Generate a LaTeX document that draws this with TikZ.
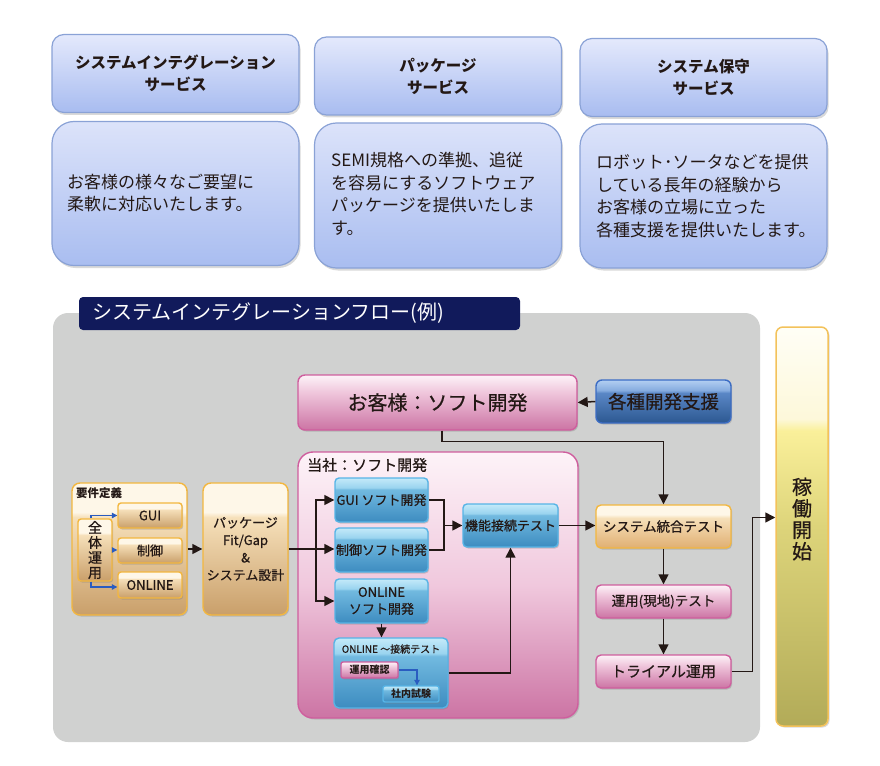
\documentclass[tikz,border=0pt]{standalone}
\usepackage{fontspec}
\setmainfont{Noto Sans CJK JP}
\newfontfamily\flowfont{Noto Sans CJK JP}[FakeBold=0.6]
\usetikzlibrary{arrows.meta,shadows}
\newcommand\myfs[2]{\fontsize{#1}{#2}\selectfont}
\definecolor{ink}{HTML}{231815}
\definecolor{hA}{HTML}{E4E9FC}
\definecolor{hB}{HTML}{A8BCF0}
\definecolor{hbd}{HTML}{8AA2D6}
\definecolor{bA}{HTML}{DCE3FA}
\definecolor{bB}{HTML}{A9BDF0}
\definecolor{panel}{HTML}{D0D1D0}
\definecolor{navy}{HTML}{111A5B}
\definecolor{orA}{HTML}{FEF7E8}
\definecolor{orB}{HTML}{F6E0BA}
\definecolor{orC}{HTML}{C99F6A}
\definecolor{orbd}{HTML}{F3B73F}
\definecolor{tgC}{HTML}{E0AF72}
\definecolor{blA}{HTML}{C4EAF9}
\definecolor{blB}{HTML}{9AD4EF}
\definecolor{blC}{HTML}{72BAE0}
\definecolor{blD}{HTML}{3D8CC0}
\definecolor{blbd}{HTML}{56B4E6}
\definecolor{pkA}{HTML}{FDF3F8}
\definecolor{pkB}{HTML}{F0C8DD}
\definecolor{pkC}{HTML}{CC74A4}
\definecolor{pkbd}{HTML}{CF5E9E}
\definecolor{shA}{HTML}{B3CFF2}
\definecolor{shB}{HTML}{86ACDF}
\definecolor{shC}{HTML}{5A87C6}
\definecolor{shD}{HTML}{2C5891}
\definecolor{shbd}{HTML}{3B6CC4}
\definecolor{kA}{HTML}{FFFEF6}
\definecolor{kB}{HTML}{FDF8DA}
\definecolor{kC}{HTML}{FAF09A}
\definecolor{kM}{HTML}{DDD47A}
\definecolor{kD}{HTML}{B2AB58}
\definecolor{kbd}{HTML}{F3C25A}
\definecolor{barrow}{HTML}{2A5CC0}
\pgfdeclareverticalshading{glossor}{100bp}{color(0bp)=(orC); color(25bp)=(orC); color(62bp)=(orB); color(64bp)=(orA); color(75bp)=(orA); color(100bp)=(orA)}
\pgfdeclareverticalshading{glosstg}{100bp}{color(0bp)=(tgC); color(25bp)=(tgC); color(60bp)=(orB); color(64bp)=(orA); color(75bp)=(orA); color(100bp)=(orA)}
\pgfdeclareverticalshading{glossbl}{100bp}{color(0bp)=(blD); color(25bp)=(blD); color(62bp)=(blC); color(64bp)=(blB); color(75bp)=(blA); color(100bp)=(blA)}
\pgfdeclareverticalshading{glosspk}{100bp}{color(0bp)=(pkC); color(25bp)=(pkC); color(60bp)=(pkB); color(75bp)=(pkA); color(100bp)=(pkA)}
\pgfdeclareverticalshading{glosssh}{100bp}{color(0bp)=(shD); color(25bp)=(shD); color(60bp)=(shC); color(63bp)=(shB); color(75bp)=(shA); color(100bp)=(shA)}
\pgfdeclareverticalshading{kadosh}{100bp}{color(0bp)=(kD); color(25bp)=(kD); color(50bp)=(kM); color(62bp)=(kC); color(63.5bp)=(kB); color(75bp)=(kA); color(100bp)=(kA)}
\begin{document}
\begin{tikzpicture}[x=1pt,y=-1pt,
  sz/.style 2 args={minimum width=#1pt, minimum height=#2pt},
  hdr/.style={rectangle, inner sep=0pt, draw=hbd, line width=1.2pt, rounded corners=12pt, top color=hA, bottom color=hB, drop shadow={opacity=.3, shadow xshift=1.5pt, shadow yshift=-2.5pt}, font=\bfseries\myfs{15.5}{22}, text=ink, align=center},
  bdy/.style={rectangle, inner sep=0pt, draw=hbd, line width=1.2pt, rounded corners=22pt, top color=bA, bottom color=bB, drop shadow={opacity=.3, shadow xshift=1.5pt, shadow yshift=-2.5pt}},
  btxt/.style={inner sep=0pt, align=left, font=\myfs{17}{22.5}, text=ink},
  flowbox/.style={rectangle, inner sep=0pt, text=ink, align=center, drop shadow={opacity=.35, shadow xshift=1.2pt, shadow yshift=-1.5pt}},
  orbox/.style={flowbox, draw=orbd, line width=1.4pt, rounded corners=5pt, shade, shading=glossor},
  blbox/.style={flowbox, draw=blbd, line width=1.4pt, rounded corners=4pt, shade, shading=glossbl},
  pkbox/.style={flowbox, draw=pkbd, line width=1.4pt, rounded corners=5pt, shade, shading=glosspk},
  arr/.style={draw=ink, line width=1.5pt, -{Triangle[length=10pt,width=10pt]}},
  conn/.style={draw=ink, line width=1.5pt},
  barr/.style={draw=barrow, line width=1.1pt, -{Triangle[length=5.5pt,width=5.5pt]}}
]
\useasboundingbox (0,0) rectangle (880,765);

% ---- top service boxes
\node[hdr, sz={247}{78}] (h1) at (175.5,73.5) {システムインテグレーション\\サービス};
\node[hdr, sz={247}{78}] (h2) at (438,76) {パッケージ\\サービス};
\node[hdr, sz={247}{78}] (h3) at (703.5,77.5) {システム保守\\サービス};
\node[bdy, sz={247}{144}] (b1) at (175.5,193.5) {};
\node[bdy, sz={247}{145}] (b2) at (438,195.5) {};
\node[bdy, sz={247}{144}] (b3) at (703.5,196) {};
\node[btxt, anchor=west] (t1) at (67,193) {お客様の様々なご要望に\\柔軟に対応いたします。};
\node[btxt, anchor=west] (t2) at (331,194) {SEMI規格への準拠、追従\\を容易にするソフトウェア\\パッケージを提供いたしま\\す。};
\node[btxt, anchor=west] (t3) at (596,196) {ロボット･ソータなどを提供\\している長年の経験から\\お客様の立場に立った\\各種支援を提供いたします。};

% ---- flow panel
\node[rectangle, inner sep=0pt, fill=panel, rounded corners=15pt, sz={707}{429}] (panel) at (406.5,527.5) {};
\node[rectangle, inner sep=0pt, fill=navy, rounded corners=4pt, sz={441}{33}] (tab) at (299.5,313.5) {};
\node[inner sep=0pt, anchor=west, text=white, font=\myfs{20}{22}] (tabt) at (92,313.5) {システムインテグレーションフロー(例)};

% ---- start of operation column
\node[rectangle, inner sep=0pt, draw=kbd, line width=1.5pt, rounded corners=7pt, shade, shading=kadosh, sz={52}{399}, drop shadow={opacity=.3, shadow xshift=1.5pt, shadow yshift=-1.5pt}] (kado) at (802,526.5) {};
\node[inner sep=0pt, align=center, text=ink, font=\flowfont\myfs{20}{21.5}] (kadot) at (802,519) {稼\\働\\開\\始};

% ---- customer side
\node[pkbox, sz={279}{55}, font=\flowfont\myfs{20}{22}, rounded corners=7pt] (okyaku) at (437.5,402.5) {お客様：ソフト開発};
\node[flowbox, draw=shbd, line width=1.4pt, rounded corners=6pt, shade, shading=glosssh, sz={135}{43}, font=\flowfont\myfs{18.5}{20}] (shien) at (663.5,401.5) {各種開発支援};

% ---- our software development
\node[rectangle, inner sep=0pt, draw=pkbd, line width=1.4pt, rounded corners=15pt, top color=pkA, bottom color=pkC, middle color=pkB, sz={280}{266}, drop shadow={opacity=.3, shadow xshift=1.5pt, shadow yshift=-1.5pt}] (tousha) at (438,585) {};
\node[inner sep=0pt, anchor=west, text=ink, font=\flowfont\myfs{15}{16}] (toushat) at (307,465) {当社：ソフト開発};

% requirements
\node[orbox, sz={115}{132}, rounded corners=8pt] (youken) at (129.5,549) {};
\node[inner sep=0pt, anchor=west, text=ink, font=\bfseries\myfs{11.5}{12}] (youkent) at (76,493) {要件定義};
\node[orbox, sz={34}{62}, rounded corners=3pt, font=\flowfont\myfs{14}{15}] (zentai) at (95,550) {全\\体\\運\\用};
\node[orbox, sz={64}{25}, rounded corners=3pt, font=\flowfont\myfs{13}{14}] (gui) at (150,515.5) {GUI};
\node[orbox, sz={64}{25}, rounded corners=3pt, font=\flowfont\myfs{13}{14}] (seigyo) at (150,550.5) {制御};
\node[orbox, sz={64}{26}, rounded corners=3pt, font=\flowfont\myfs{13}{14}] (online) at (150,585) {ONLINE};
\node[orbox, sz={85}{132}, rounded corners=8pt, font=\flowfont\myfs{13}{17.5}] (pkg) at (245.5,549) {パッケージ\\Fit/Gap\\\&\\システム設計};

% software boxes
\node[blbox, sz={93}{44}, font=\flowfont\myfs{13}{15}] (guisoft) at (381.5,500) {GUI ソフト開発};
\node[blbox, sz={93}{44}, font=\flowfont\myfs{13}{15}] (seigyosoft) at (381.5,550) {制御ソフト開発};
\node[blbox, sz={93}{44}, font=\flowfont\myfs{13}{17}] (onlinesoft) at (381.5,601) {ONLINE\\ソフト開発};
\node[blbox, sz={95}{43}, font=\flowfont\myfs{13}{15}] (kinou) at (510.5,525.5) {機能接続テスト};
\node[blbox, sz={114}{70}, rounded corners=5pt] (onlinetest) at (391,673) {};
\node[inner sep=0pt, text=ink, font=\flowfont\myfs{10}{11}] (onlinetestt) at (391,649) {ONLINE ～接続テスト};
\node[pkbox, sz={57}{16}, rounded corners=2pt, font=\bfseries\myfs{10}{11}] (unyo) at (369.5,670) {運用確認};
\node[blbox, sz={56}{16}, rounded corners=2pt, font=\bfseries\myfs{10}{11}] (shanai) at (411,694) {社内試験};

% test chain
\node[flowbox, draw=orbd, line width=1.4pt, rounded corners=5pt, shade, shading=glosstg, sz={135}{43}, font=\flowfont\myfs{13.5}{15}] (tougou) at (663.5,526.5) {システム統合テスト};
\node[pkbox, sz={135}{33}, font=\flowfont\myfs{13.5}{15}] (genchi) at (663.5,601.5) {運用(現地)テスト};
\node[pkbox, sz={135}{33}, font=\flowfont\myfs{15}{16}] (trial) at (663.5,671.5) {トライアル運用};

% ---- connectors
\draw[arr] (shien.west) -- (okyaku.east);
\draw[arr] ([xshift=4.5pt]okyaku.south) -- ++(0,11) -| (tougou.north);
\draw[barr] ([xshift=-4pt]zentai.north) |- (gui.west);
\draw[barr] (zentai.east) -- (zentai.east -| seigyo.west);
\draw[barr] ([xshift=-4pt]zentai.south) |- ([yshift=-2pt]online.west);
\draw[arr] (youken.east) -- (pkg.west);
\coordinate (br) at (316,549);
\draw[arr] (pkg.east) -- (pkg.east -| seigyosoft.west);
\draw[arr] (br) |- (guisoft.west);
\draw[arr] (br) |- (onlinesoft.west);
\coordinate (mg) at (444,525.5);
\draw[conn] (guisoft.east) -| (mg) |- (seigyosoft.east);
\draw[arr] (mg) -- (kinou.west);
\draw[arr] (kinou.east) -- (kinou.east -| tougou.west);
\draw[arr] (onlinesoft.south) -- (onlinesoft.south |- onlinetest.north);
\draw[arr] (onlinetest.east) -| (kinou.south);
\draw[barr] (unyo.east) -| ([xshift=6pt]shanai.north);
\draw[arr] (tougou.south) -- (genchi.north);
\draw[arr] (genchi.south) -- (trial.north);
\draw[arr] (trial.east) -- ++(21,0) |- ([yshift=9pt]kado.west);
\end{tikzpicture}
\end{document}
